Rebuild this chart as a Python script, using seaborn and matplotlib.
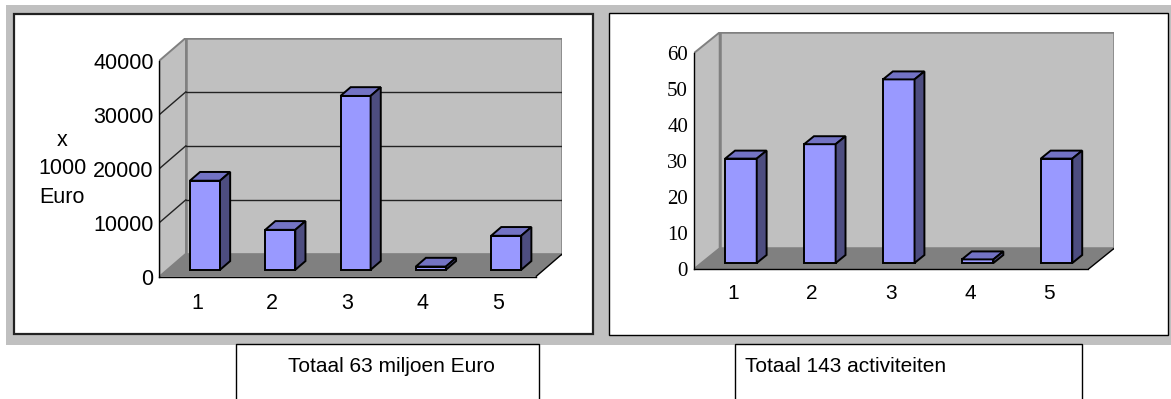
import numpy as np
import pandas as pd
import matplotlib
matplotlib.use("Agg")
import matplotlib.pyplot as plt
from matplotlib.patches import Rectangle, Polygon
import seaborn as sns

# ---- data -------------------------------------------------------------
categories = ["1", "2", "3", "4", "5"]
budget_k_euro = [16500, 7400, 32200, 600, 6300]      # x 1000 Euro
activity_counts = [29, 33, 51, 1, 29]
budget_ticks = [0, 10000, 20000, 30000, 40000]
activity_ticks = [0, 10, 20, 30, 40, 50, 60]
budget_ylabel = "x\n1000\nEuro"
budget_caption = "Totaal 63 miljoen Euro"
activity_caption = "Totaal 143 activiteiten"

# ---- styling ----------------------------------------------------------
W, H = 1171, 399
FRONT, TOP, SIDE = "#9999FF", "#7373C4", "#4D4D80"
WALL, FLOOR = "#C0C0C0", "#808080"
BAR_FRONT, BAR_BACK = 0.30, 0.68          # bar depth range inside the floor

sns.set_style("white")
plt.rcParams["font.family"] = ["Liberation Sans", "DejaVu Sans"]
plt.rcParams.update({"text.color": "black", "xtick.color": "black",
                     "ytick.color": "black", "axes.labelcolor": "black"})

fig = plt.figure(figsize=(W / 100, H / 100), dpi=100)


def px_box(x0, y0, x1, y1, **kw):
    """Rectangle in pixel coordinates measured from the top-left corner."""
    r = Rectangle((x0 / W, 1 - y1 / H), (x1 - x0) / W, (y1 - y0) / H,
                  transform=fig.transFigure, **kw)
    fig.add_artist(r)
    return r


# background frame, chart panels and caption boxes
px_box(6, 5, 1171, 345, facecolor=WALL, edgecolor="none", zorder=-3)
px_box(14, 14, 593, 334, facecolor="white", edgecolor="#222222", lw=1.6, zorder=-2)
px_box(609, 13, 1168, 335, facecolor="white", edgecolor="black", lw=1.0, zorder=-2)
px_box(236, 344, 539, 430, facecolor="white", edgecolor="black", lw=1.0, zorder=-2)
px_box(735, 344, 1082, 430, facecolor="white", edgecolor="black", lw=1.0, zorder=-2)


def bar_chart_3d(origin, cat_px, unit_px, depth_px, values, ticks, grid,
                 ytick_family, ytick_size, xtick_size, xpad):
    ox, oy = origin
    ymax = ticks[-1]
    DX = depth_px[0] / cat_px
    DY = depth_px[1] / unit_px
    w_px = (5 + DX) * cat_px
    h_px = (ymax + DY) * unit_px
    ax = fig.add_axes([ox / W, (H - oy) / H, w_px / W, h_px / H])
    ax.patch.set_visible(False)

    df = pd.DataFrame({"category": categories, "value": values})
    sns.barplot(data=df, x="category", y="value", ax=ax, color=FRONT,
                saturation=1, width=0.4, edgecolor="black", linewidth=1.4,
                zorder=3)
    bars = list(ax.patches)

    ax.set_xlim(-0.5, 4.5 + DX)
    ax.set_ylim(0, ymax + DY)
    ax.set_xlabel("")
    ax.set_ylabel("")

    # walls and floor
    ax.add_patch(Rectangle((-0.5 + DX, DY), 5, ymax, facecolor=WALL,
                           edgecolor=FLOOR, lw=1.8, zorder=0.5))
    ax.add_patch(Polygon([(-0.5, 0), (-0.5 + DX, DY), (-0.5 + DX, ymax + DY),
                          (-0.5, ymax)], closed=True, facecolor=WALL,
                         edgecolor=FLOOR, lw=1.4, zorder=0.6))
    ax.add_patch(Polygon([(-0.5, 0), (4.5, 0), (4.5 + DX, DY), (-0.5 + DX, DY)],
                         closed=True, facecolor=FLOOR, edgecolor="none",
                         zorder=0.7))
    ax.plot([4.5, 4.5 + DX], [0, DY], color="black", lw=1.0, zorder=0.9,
            solid_capstyle="butt")

    if grid:
        for v in ticks[1:-1]:
            ax.plot([-0.5 + DX, 4.5 + DX], [v + DY, v + DY], color="#222222",
                    lw=1.0, zorder=0.8)
            ax.plot([-0.5, -0.5 + DX], [v, v + DY], color="#222222",
                    lw=1.0, zorder=0.8)

    # turn the flat bars into boxes standing in the middle of the floor
    f0, bd = BAR_FRONT, BAR_BACK - BAR_FRONT
    for p in bars:
        x = p.get_x() + f0 * DX
        y = f0 * DY
        w, h = p.get_width(), p.get_height()
        p.set_x(x)
        p.set_y(y)
        p.set_joinstyle("miter")
        ddx, ddy = bd * DX, bd * DY
        ax.add_patch(Polygon([(x, y + h), (x + w, y + h),
                              (x + w + ddx, y + h + ddy), (x + ddx, y + h + ddy)],
                             closed=True, facecolor=TOP, edgecolor="black",
                             lw=1.4, joinstyle="miter", zorder=3))
        ax.add_patch(Polygon([(x + w, y), (x + w + ddx, y + ddy),
                              (x + w + ddx, y + h + ddy), (x + w, y + h)],
                             closed=True, facecolor=SIDE, edgecolor="black",
                             lw=1.4, joinstyle="miter", zorder=3))

    # front axes
    for s in ("top", "right"):
        ax.spines[s].set_visible(False)
    ax.spines["left"].set_bounds(0, ymax)
    ax.spines["bottom"].set_bounds(-0.5, 4.5)
    for s in ("left", "bottom"):
        ax.spines[s].set_color("black")
        ax.spines[s].set_linewidth(1.0)
        ax.spines[s].set_zorder(2)

    ax.set_yticks(ticks, labels=[str(t) for t in ticks])
    ax.tick_params(axis="y", direction="out", length=3.8, width=1.0,
                   pad=0.3, labelsize=ytick_size, color="black",
                   labelcolor="black")
    for lab in ax.get_yticklabels():
        lab.set_fontfamily(ytick_family)
    ax.set_xticks(range(len(categories)), labels=categories)
    ax.set_xticks(np.arange(-0.5, 5.0, 1.0), minor=True)
    ax.tick_params(axis="x", which="major", length=0, pad=xpad,
                   labelsize=xtick_size, labelcolor="black")
    ax.tick_params(axis="x", which="minor", direction="out", length=3.8,
                   width=1.0, color="black")
    return ax


bar_chart_3d(origin=(159.3, 276.7), cat_px=75.3, unit_px=216 / 40000,
             depth_px=(26.7, 23.0), values=budget_k_euro, ticks=budget_ticks,
             grid=True, ytick_family=["Liberation Sans", "DejaVu Sans"],
             ytick_size=15.5, xtick_size=15.5, xpad=12)

bar_chart_3d(origin=(693.7, 269.3), cat_px=78.9, unit_px=3.6,
             depth_px=(26.0, 21.0), values=activity_counts,
             ticks=activity_ticks, grid=False,
             ytick_family=["Liberation Serif", "DejaVu Serif"],
             ytick_size=15, xtick_size=15, xpad=10.5)

fig.text(62 / W, 1 - 169 / H, budget_ylabel, ha="center", va="center",
         multialignment="center", fontsize=15.5, linespacing=1.45)
fig.text(288 / W, 1 - 367 / H, budget_caption, ha="left", va="center",
         fontsize=15)
fig.text(745 / W, 1 - 367 / H, activity_caption, ha="left", va="center",
         fontsize=15)

fig.savefig("out.png", dpi=100)
